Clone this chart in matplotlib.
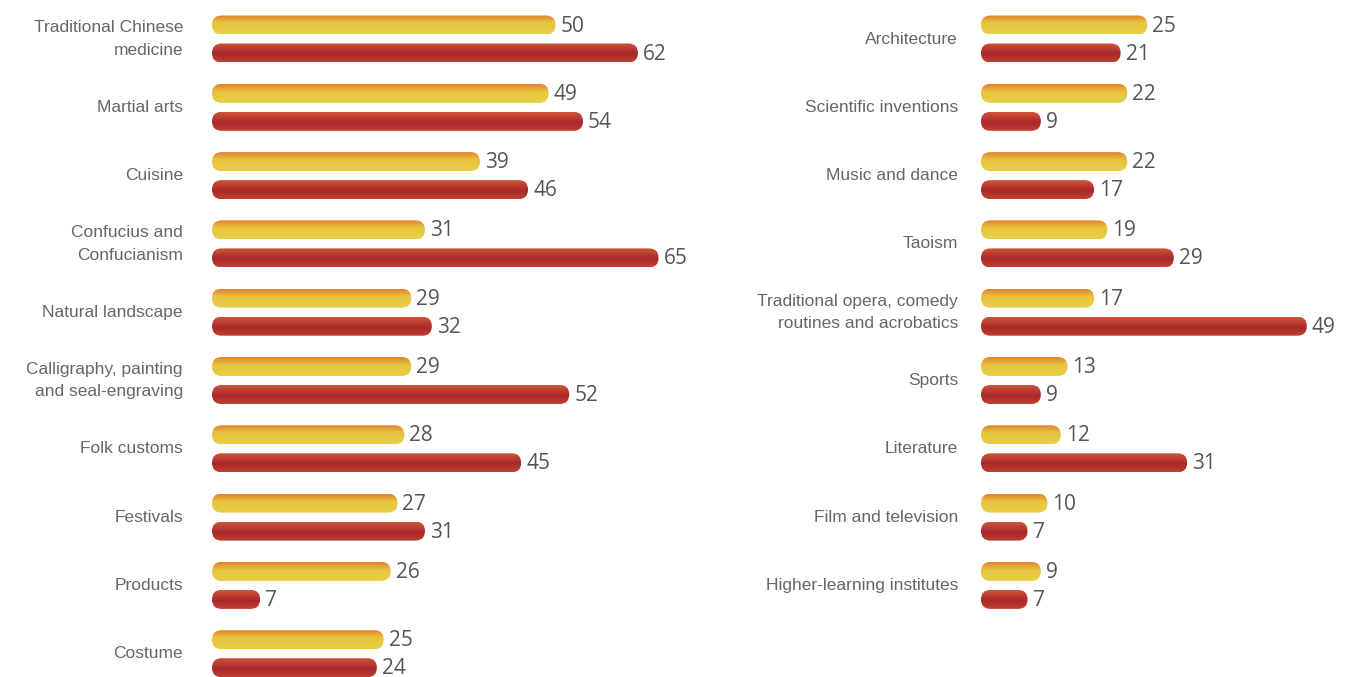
import matplotlib
matplotlib.use("Agg")
import matplotlib.pyplot as plt
import numpy as np
from matplotlib import font_manager
from matplotlib.patches import FancyBboxPatch
from matplotlib.colors import to_rgb

# two survey series per item: yellow (first) and red (second)
left_items = ["Traditional Chinese\nmedicine", "Martial arts", "Cuisine",
              "Confucius and\nConfucianism", "Natural landscape",
              "Calligraphy, painting\nand seal-engraving", "Folk customs",
              "Festivals", "Products", "Costume"]
left_yellow = [50, 49, 39, 31, 29, 29, 28, 27, 26, 25]
left_red = [62, 54, 46, 65, 32, 52, 45, 31, 7, 24]

right_items = ["Architecture", "Scientific inventions", "Music and dance",
               "Taoism", "Traditional opera, comedy\nroutines and acrobatics",
               "Sports", "Literature", "Film and television",
               "Higher-learning institutes"]
right_yellow = [25, 22, 22, 19, 17, 13, 12, 10, 9]
right_red = [21, 9, 17, 29, 49, 9, 31, 7, 7]

W, H = 1367, 677
PITCH = 68.3      # px per category row
TOP = 39          # px from top to first row centre
BAR_H = 19 / PITCH
OFF = 14 / PITCH

yellow_stops = [(0.0, "#e2812c"), (0.4, "#e8c43e"), (1.0, "#e7cf47")]
red_stops = [(0.0, "#d0553a"), (0.55, "#a8282a"), (1.0, "#c0402f")]


def has_font(name):
    try:
        font_manager.findfont(name, fallback_to_default=False)
        return True
    except Exception:
        return False


if has_font("Liberation Sans Narrow"):
    label_font, label_size = "Liberation Sans Narrow", 14
else:
    label_font, label_size = "Liberation Sans", 12.5
value_font = "Open Sans"


def gradient(stops, n=64):
    t = np.linspace(0, 1, n)
    pos = [s[0] for s in stops]
    cols = np.array([to_rgb(s[1]) for s in stops])
    rgb = np.stack([np.interp(t, pos, cols[:, k]) for k in range(3)], axis=1)
    return rgb[:, None, :]


def draw_bar(ax, value, yc, stops, m, r):
    y0 = yc - BAR_H / 2
    patch = FancyBboxPatch((0, y0), value, BAR_H,
                           boxstyle=f"round,pad=0,rounding_size={r}",
                           mutation_aspect=m, transform=ax.transData)
    im = ax.imshow(gradient(stops), extent=(0, value, yc + BAR_H / 2, y0),
                   aspect="auto", origin="upper", interpolation="bilinear")
    im.set_clip_path(patch)
    ax.annotate(str(value), xy=(value, yc), xytext=(5, -1),
                textcoords="offset pixels", ha="left", va="center",
                fontsize=15, color="#555555", family=value_font)


def panel(fig, x0_px, width_px, scale, items, yellow, red, label_gap):
    ax = fig.add_axes([x0_px / W, 0, width_px / W, 1])
    xmax = width_px / scale
    m = scale / PITCH
    r = (BAR_H / m) / 2
    for i, (name, a, b) in enumerate(zip(items, yellow, red)):
        draw_bar(ax, a, i - OFF, yellow_stops, m, r)
        draw_bar(ax, b, i + OFF, red_stops, m, r)
        ax.annotate(name, xy=(0, i), xytext=(-label_gap, 0),
                    textcoords="offset pixels", ha="right", va="center",
                    multialignment="right", fontsize=label_size,
                    color="#666666", family=label_font, linespacing=1.6)
    ax.set_xlim(0, xmax)
    ax.set_ylim((H - TOP) / PITCH, -TOP / PITCH)
    ax.axis("off")
    return ax


fig = plt.figure(figsize=(W / 100, H / 100), dpi=100)
panel(fig, 212, 500, 6.87, left_items, left_yellow, left_red, 29)
panel(fig, 981, 380, 6.65, right_items, right_yellow, right_red, 23)
fig.savefig("out.png", dpi=100)
